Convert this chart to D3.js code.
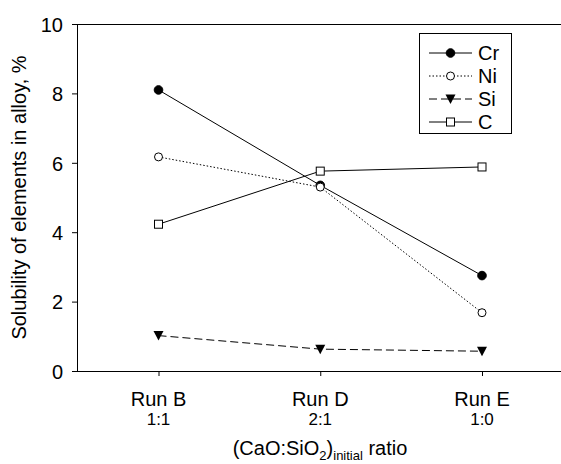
<!DOCTYPE html>
<html lang="en">
<head>
<meta charset="utf-8">
<title>Solubility of elements in alloy</title>
<script src="https://cdn.jsdelivr.net/npm/d3@7"></script>
<style>
  body { margin: 0; background: #fff; }
  text { font-family: Arial, "Liberation Sans", sans-serif; fill: #000; }
</style>
</head>
<body>
<script>
// data
var runs = ["Run B", "Run D", "Run E"];
var ratios = ["1:1", "2:1", "1:0"];
var cr = [8.1, 5.35, 2.75];
var ni = [6.17, 5.3, 1.68];
var si = [1.02, 0.63, 0.57];
var c = [4.23, 5.76, 5.88];
var yTicks = [0, 2, 4, 6, 8, 10];

var series = [
  {name: "Cr", values: cr, dash: null, marker: "circleFilled"},
  {name: "Ni", values: ni, dash: "1.5,2", marker: "circleOpen"},
  {name: "Si", values: si, dash: "8,4", marker: "triangle"},
  {name: "C", values: c, dash: null, marker: "square"}
];

var w = 561, h = 464;
var pLeft = 77, pRight = 561, pTop = 24, pBottom = 371;

var svg = d3.select("body").append("svg")
  .attr("width", w)
  .attr("height", h);

var x = d3.scalePoint().domain(runs).range([158.5, 482]);
var y = d3.scaleLinear().domain([0, 10]).range([pBottom, pTop]);

// top frame line
svg.append("line")
  .attr("x1", pLeft).attr("x2", pRight)
  .attr("y1", pTop + 0.5).attr("y2", pTop + 0.5)
  .attr("stroke", "#000").attr("stroke-width", 1);

// y axis
var yAxis = svg.append("g")
  .attr("transform", "translate(" + pLeft + ",0)")
  .call(d3.axisLeft(y).tickValues(yTicks).tickSize(5).tickPadding(9));
yAxis.select(".domain").attr("stroke", "#000");
yAxis.selectAll("text").style("font-size", "20px").attr("dy", "0.36em");

// x axis
var xAxis = svg.append("g")
  .attr("transform", "translate(0," + pBottom + ")")
  .call(d3.axisBottom(x).tickSize(5).tickFormat(""));
xAxis.select(".domain").attr("d", "M" + (pLeft - 4) + ",0.5H" + pRight);

// run labels and ratios
svg.selectAll(".runlab")
  .data(runs)
  .enter().append("text")
  .attr("class", "runlab")
  .attr("x", function(d) { return x(d); })
  .attr("y", 406)
  .attr("text-anchor", "middle")
  .style("font-size", "20px")
  .text(function(d) { return d; });

svg.selectAll(".ratiolab")
  .data(ratios)
  .enter().append("text")
  .attr("class", "ratiolab")
  .attr("x", function(d, i) { return x(runs[i]); })
  .attr("y", 425)
  .attr("text-anchor", "middle")
  .style("font-size", "17px")
  .text(function(d) { return d; });

// x axis title
var xt = svg.append("text")
  .attr("x", 320)
  .attr("y", 455)
  .attr("text-anchor", "middle")
  .style("font-size", "20px");
xt.append("tspan").text("(CaO:SiO");
xt.append("tspan").attr("dy", 5).style("font-size", "13px").text("2");
xt.append("tspan").attr("dy", -5).text(")");
xt.append("tspan").attr("dy", 5).style("font-size", "13px").text("initial");
xt.append("tspan").attr("dy", -5).text(" ratio");

// y axis title
svg.append("text")
  .attr("transform", "translate(26," + ((pTop + pBottom) / 2) + ") rotate(-90)")
  .attr("text-anchor", "middle")
  .style("font-size", "20px")
  .text("Solubility of elements in alloy, %");

var line = d3.line()
  .x(function(d, i) { return x(runs[i]); })
  .y(function(d) { return y(d); });

function drawMarker(g, type, cx, cy) {
  if (type === "circleFilled") {
    g.append("circle").attr("cx", cx).attr("cy", cy).attr("r", 4.3)
      .attr("fill", "#000").attr("stroke", "#000");
  } else if (type === "circleOpen") {
    g.append("circle").attr("cx", cx).attr("cy", cy).attr("r", 4)
      .attr("fill", "#fff").attr("stroke", "#000");
  } else if (type === "triangle") {
    g.append("path")
      .attr("d", "M" + (cx - 5) + "," + (cy - 4.5) + "L" + (cx + 5) + "," + (cy - 4.5) + "L" + cx + "," + (cy + 5) + "Z")
      .attr("fill", "#000");
  } else {
    g.append("rect").attr("x", cx - 4).attr("y", cy - 4).attr("width", 8).attr("height", 8)
      .attr("fill", "#fff").attr("stroke", "#000");
  }
}

series.forEach(function(s) {
  svg.append("path")
    .datum(s.values)
    .attr("d", line)
    .attr("fill", "none")
    .attr("stroke", "#000")
    .attr("stroke-width", 1)
    .attr("stroke-dasharray", s.dash);
});
series.forEach(function(s) {
  var g = svg.append("g");
  s.values.forEach(function(v, i) {
    drawMarker(g, s.marker, x(runs[i]), y(v));
  });
});

// legend
var lg = svg.append("g");
lg.append("rect")
  .attr("x", 419.5).attr("y", 33.5)
  .attr("width", 92).attr("height", 100)
  .attr("fill", "#fff").attr("stroke", "#000");
series.forEach(function(s, i) {
  var ly = 53 + i * 23;
  lg.append("line")
    .attr("x1", 429).attr("x2", 472)
    .attr("y1", ly).attr("y2", ly)
    .attr("stroke", "#000")
    .attr("stroke-dasharray", s.dash);
  drawMarker(lg, s.marker, 450.5, ly);
  lg.append("text")
    .attr("x", 478).attr("y", ly + 7)
    .style("font-size", "20px")
    .text(s.name);
});
</script>
</body>
</html>
